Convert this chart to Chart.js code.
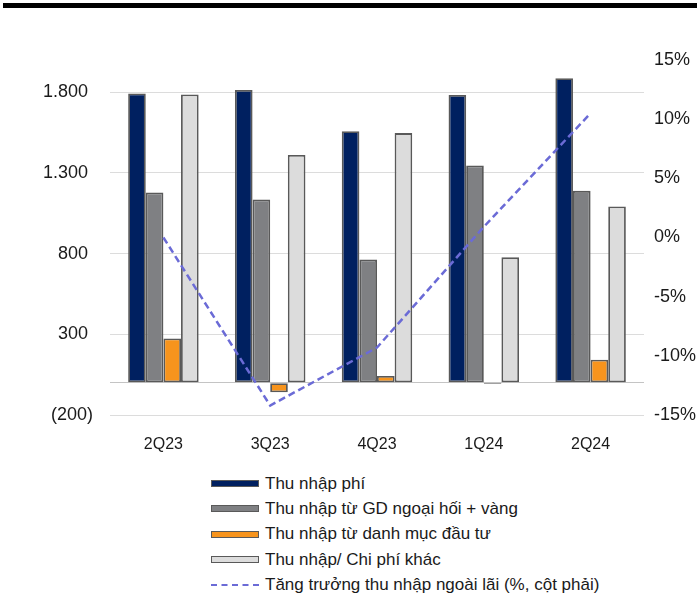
<!DOCTYPE html>
<html lang="vi">
<head>
<meta charset="utf-8">
<script src="https://cdn.jsdelivr.net/npm/chart.js@4"></script>
<style>
    body {
        margin: 0;
        width: 697px;
        height: 599px;
        background: #fff;
        position: relative;
        overflow: hidden;
        font-family: "Liberation Sans", Arial, sans-serif;
        color: #1a1a1a;
    }
    .top-rule {
        position: absolute;
        z-index: 5;
        left: 3px;
        width: 694px;
        top: 3px;
        height: 5px;
        background: #000;
    }
    .chart-box {
        position: absolute;
        left: 0;
        top: 0;
    }
    .legend {
        position: absolute;
        left: 211px;
        top: 471px;
    }
    .legend-row {
        display: flex;
        align-items: center;
        height: 25.3px;
        font-size: 17px;
        white-space: nowrap;
    }
    .swatch {
        width: 46px;
        height: 5px;
        margin-right: 6px;
        border: 1px solid #595959;
    }
    .swatch.dash {
        height: 0;
        border: none;
        border-top: 2px dashed #6b6bd6;
        width: 48px;
        background: none;
    }
</style>
</head>
<body>
<div class="top-rule"></div>
<div class="chart-box"><canvas id="chart" width="697" height="460"></canvas></div>
<div class="legend"></div>

<script>
// Quarterly non-interest income breakdown (bn VND) + growth (%) on right axis
const quarters = ["2Q23", "3Q23", "4Q23", "1Q24", "2Q24"];

const feeIncome = [1792, 1814, 1558, 1783, 1887];
const fxGoldIncome = [1179, 1136, 763, 1346, 1189];
const investIncome = [274, -59, 42, -8, 142];
const otherIncome = [1786, 1411, 1547, 777, 1092];
const nonInterestGrowth = [0.0, -14.2, -9.3, 0.9, 10.5];

const leftTicks = [-200, 0, 300, 800, 1300, 1800];

const seriesNames = [
    "Thu nhập phí",
    "Thu nhập từ GD ngoại hối + vàng",
    "Thu nhập từ danh mục đầu tư",
    "Thu nhập/ Chi phí khác",
    "Tăng trưởng thu nhập ngoài lãi (%, cột phải)"
];
const seriesColors = ["#002060", "#7f8083", "#f7941d", "#dcdcdc", "#6b6bd6"];

const fmtThousands = v => {
    const s = Math.abs(v).toString().replace(/\B(?=(\d{3})+(?!\d))/g, ".");
    return v < 0 ? "(" + s + ")" : s + " ";
};

Chart.defaults.font.family = '"Liberation Sans", Arial, sans-serif';
Chart.defaults.color = "#1a1a1a";

const barStyle = {
    type: "bar",
    yAxisID: "y",
    borderColor: "#595959",
    borderWidth: 1.8,
    borderSkipped: false,
    barPercentage: 1,
    categoryPercentage: 0.66,
    order: 1
};

const chart = new Chart(document.getElementById("chart"), {
    data: {
        labels: quarters,
        datasets: [
            { ...barStyle, label: seriesNames[0], data: feeIncome, backgroundColor: seriesColors[0] },
            { ...barStyle, label: seriesNames[1], data: fxGoldIncome, backgroundColor: seriesColors[1] },
            { ...barStyle, label: seriesNames[2], data: investIncome, backgroundColor: seriesColors[2] },
            { ...barStyle, label: seriesNames[3], data: otherIncome, backgroundColor: seriesColors[3] },
            {
                type: "line",
                label: seriesNames[4],
                data: nonInterestGrowth,
                yAxisID: "y1",
                borderColor: seriesColors[4],
                borderWidth: 2.5,
                borderDash: [7, 4],
                pointRadius: 0,
                fill: false,
                tension: 0,
                order: 0
            }
        ]
    },
    options: {
        responsive: false,
        animation: false,
        layout: {
            padding: { top: 60, left: 0, right: 0, bottom: 0 }
        },
        plugins: {
            legend: { display: false },
            tooltip: { enabled: false }
        },
        scales: {
            x: {
                grid: { display: false },
                border: { display: false },
                ticks: {
                    padding: 12,
                    font: { size: 16 }
                },
                afterFit: scale => { scale.height = 45; }
            },
            y: {
                position: "left",
                min: -200,
                max: 2000,
                afterBuildTicks: scale => {
                    scale.ticks = leftTicks.map(v => ({ value: v }));
                },
                grid: {
                    drawTicks: false,
                    lineWidth: 1,
                    color: ctx => ctx.tick && ctx.tick.value === 0 ? "#c4c4c4" : "#dcdcdc"
                },
                border: { display: false },
                ticks: {
                    padding: 17,
                    font: { size: 18 },
                    callback: v => v === 0 ? "" : fmtThousands(v)
                },
                afterFit: scale => { scale.width = 110; }
            },
            y1: {
                position: "right",
                min: -15,
                max: 15,
                grid: { display: false, drawTicks: false },
                border: { display: false },
                ticks: {
                    stepSize: 5,
                    padding: 10,
                    font: { size: 18 },
                    callback: v => v + "%"
                },
                afterFit: scale => { scale.width = 53; }
            }
        }
    }
});

// legend under the chart, one series per row
const legendBox = document.querySelector(".legend");
chart.data.datasets.forEach(ds => {
    const row = document.createElement("div");
    row.className = "legend-row";
    const sw = document.createElement("span");
    sw.className = ds.type === "line" ? "swatch dash" : "swatch";
    if (ds.type !== "line") sw.style.background = ds.backgroundColor;
    const txt = document.createElement("span");
    txt.textContent = ds.label;
    row.appendChild(sw);
    row.appendChild(txt);
    legendBox.appendChild(row);
});
</script>
</body>
</html>
